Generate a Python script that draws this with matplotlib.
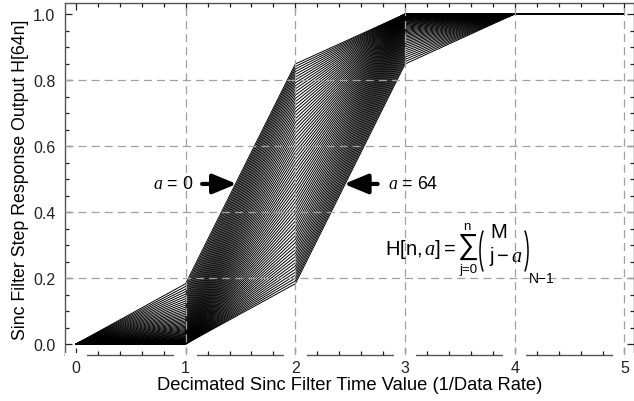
import numpy as np
import matplotlib
matplotlib.use("Agg")
import matplotlib.pyplot as plt
from matplotlib.ticker import MultipleLocator
from matplotlib.patches import Arc
from matplotlib.transforms import IdentityTransform

plt.rcParams['font.family'] = ['Liberation Sans', 'DejaVu Sans']
plt.rcParams['mathtext.fontset'] = 'custom'
plt.rcParams['mathtext.rm'] = 'Liberation Sans'
plt.rcParams['mathtext.sf'] = 'Liberation Sans'
plt.rcParams['mathtext.it'] = 'Liberation Serif:italic'
plt.rcParams['lines.scale_dashes'] = False

# ---- data: sinc^3 filter, decimation 64, step response sampled at decimated times
decimation = 64          # M
filter_order = 3         # N
offsets = list(range(0, 65))          # a = 0 ... 64
sample_times = [0, 1, 2, 3, 4, 5]     # decimated time values
x_ticks = [0, 1, 2, 3, 4, 5]
y_ticks = [0.0, 0.2, 0.4, 0.6, 0.8, 1.0]
x_label = "Decimated Sinc Filter Time Value (1/Data Rate)"
y_label = "Sinc Filter Step Response Output H[64n]"

box = np.ones(decimation)
impulse = box.copy()
for _ in range(filter_order - 1):
    impulse = np.convolve(impulse, box)
step = np.cumsum(impulse) / impulse.sum()


def H(n):
    if n < 0:
        return 0.0
    if n >= len(step):
        return 1.0
    return step[n]


W, Hh = 634, 402
fig = plt.figure(figsize=(W / 100, Hh / 100), dpi=100)
ax = fig.add_axes([65 / W, (Hh - 356) / Hh, (W - 65) / W, 352 / Hh])

for a in offsets:
    ys = [H(decimation * k - a) for k in sample_times]
    ax.plot(sample_times, ys, color='black', lw=0.7, zorder=2)

ax.set_xlim(-0.1, 5.087)
ax.set_ylim(-1 / 30, 1 + 1 / 30)

# grid lines
for gx in [1, 2, 3, 4, 5]:
    ax.axvline(gx, color='#a0a0a0', lw=0.9, linestyle=(0, (5.8, 3.6)), zorder=3)
for gy in [0.2, 0.4, 0.6, 0.8]:
    ax.axhline(gy, color='#a0a0a0', lw=0.9, linestyle=(0, (5.8, 3.6)), zorder=3)

ax.set_xticks(x_ticks)
ax.set_yticks(y_ticks)
ax.set_yticklabels([f"{v:.1f}" for v in y_ticks])
ax.xaxis.set_minor_locator(MultipleLocator(0.2))
ax.yaxis.set_minor_locator(MultipleLocator(0.05))
ax.tick_params(which='both', direction='in', top=True, right=True, colors='#222222',
               labelsize=11.5, width=0.9)
ax.tick_params(which='major', length=5)
ax.tick_params(which='minor', length=3)
ax.tick_params(axis='x', pad=3.5)
ax.tick_params(axis='y', pad=7)
for sp in ax.spines.values():
    sp.set_color('#555555')
    sp.set_linewidth(1.0)
    sp.set_zorder(2.4)
ax.xaxis.set_zorder(2.6)
for lbl in ax.get_xticklabels():
    lbl.set_bbox(dict(facecolor='white', edgecolor='none', pad=5))

ax.set_xlabel(x_label, fontsize=13.2, labelpad=1)
ax.set_ylabel(y_label, fontsize=12.8, labelpad=3)

# annotations
arrow_kw = dict(arrowstyle='-|>,head_length=1.45,head_width=0.6', color='black', lw=3,
                mutation_scale=10, shrinkA=0, shrinkB=0)
ax.annotate('', xy=(1.465, 0.485), xytext=(1.15, 0.485), arrowprops=arrow_kw, zorder=4)
ax.annotate('', xy=(2.443, 0.485), xytext=(2.75, 0.485), arrowprops=arrow_kw, zorder=4)
ax.text(0.885, 0.485, r'$a$ = 0', fontsize=12.8, ha='center', va='center', zorder=4)
ax.text(2.84, 0.485, r'$a$ = 64', fontsize=12.8, ha='left', va='center', zorder=4)


# formula, composed from pieces placed in image pixel coordinates
def px(x, y, s, size, ha='left', va='center'):
    fig.text(x / W, 1 - y / Hh, s, fontsize=size, ha=ha, va=va, zorder=5)


px(385, 255, r'$\mathrm{H}[\mathrm{n},a]=$', 14.5, va='baseline')
px(467, 247, r'$\sum$', 21, ha='center')
px(467, 227, 'n', 9.5, ha='center')
px(468.5, 269.5, 'j=0', 9.5, ha='center')
px(498.5, 238, 'M', 14.5, ha='center', va='baseline')
px(505.5, 261.5, r'$\mathrm{j}-a$', 14.5, ha='center', va='baseline')
px(529, 283, 'N\u22121', 10, va='baseline')

rx, ry, cy = 10.6, 28.7, Hh - 252
fig.add_artist(Arc((480 + rx, cy), 2 * rx, 2 * ry, theta1=110, theta2=250,
                   transform=IdentityTransform(), color='black', lw=1.1))
fig.add_artist(Arc((528 - rx, cy), 2 * rx, 2 * ry, theta1=-70, theta2=70,
                   transform=IdentityTransform(), color='black', lw=1.1))

fig.savefig('out.png', dpi=100)
